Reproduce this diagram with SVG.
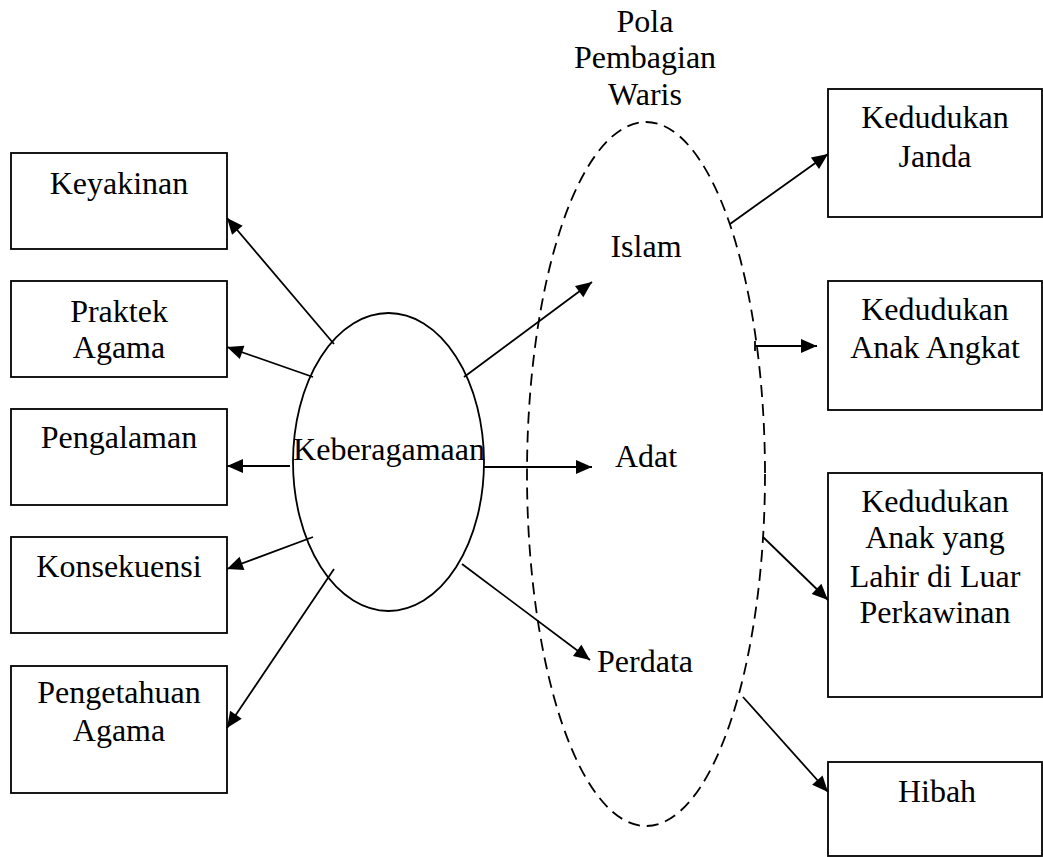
<svg xmlns="http://www.w3.org/2000/svg" width="1043" height="857" viewBox="0 0 1043 857">
<style>
text{font-family:"Liberation Serif","Times New Roman",serif;font-size:32px;fill:#000;text-anchor:middle}
.box{fill:#fff;stroke:#000;stroke-width:1.8}
.conn line{stroke:#000;stroke-width:1.8}
.arr{marker-end:url(#ah)}
</style>
<defs>
<marker id="ah" markerUnits="userSpaceOnUse" markerWidth="18" markerHeight="16" refX="16" refY="7" orient="auto" overflow="visible">
<path d="M0,0 L16,7 L0,14 z" fill="#000"/>
</marker>
</defs>
<rect width="1043" height="857" fill="#fff"/>

<g id="pola">
<ellipse cx="646" cy="474" rx="119" ry="352" fill="none" stroke="#000" stroke-width="1.8" stroke-dasharray="12,7"/>
<text x="645" y="32">Pola</text>
<text x="645" y="68">Pembagian</text>
<text x="645" y="105">Waris</text>
</g>
<g id="islam"><text x="646" y="257">Islam</text></g>
<g id="adat"><text x="646" y="467">Adat</text></g>
<g id="perdata"><text x="645" y="672">Perdata</text></g>

<g id="keberagamaan">
<ellipse cx="388.5" cy="462" rx="95.5" ry="149" fill="#fff" stroke="#000" stroke-width="1.8"/>
<text x="389" y="460">Keberagamaan</text>
</g>

<g id="keyakinan"><rect class="box" x="11" y="153" width="216" height="96"/><text x="119" y="194">Keyakinan</text></g>
<g id="praktek"><rect class="box" x="11" y="281" width="216" height="96"/><text x="119" y="322">Praktek</text><text x="119" y="358">Agama</text></g>
<g id="pengalaman"><rect class="box" x="11" y="409" width="216" height="96"/><text x="119" y="448">Pengalaman</text></g>
<g id="konsekuensi"><rect class="box" x="11" y="537" width="216" height="96"/><text x="119" y="577">Konsekuensi</text></g>
<g id="pengetahuan"><rect class="box" x="11" y="666" width="216" height="127"/><text x="119" y="703">Pengetahuan</text><text x="119" y="741">Agama</text></g>

<g id="janda"><rect class="box" x="828" y="89" width="214" height="128"/><text x="935" y="128">Kedudukan</text><text x="935" y="167">Janda</text></g>
<g id="angkat"><rect class="box" x="828" y="281" width="214" height="129"/><text x="935" y="320">Kedudukan</text><text x="935" y="358">Anak Angkat</text></g>
<g id="luar"><rect class="box" x="828" y="473" width="214" height="224"/><text x="935" y="512">Kedudukan</text><text x="935" y="548">Anak yang</text><text x="935" y="587">Lahir di Luar</text><text x="935" y="623">Perkawinan</text></g>
<g id="hibah"><rect class="box" x="828" y="762" width="214" height="94"/><text x="937" y="802">Hibah</text></g>

<g class="conn" id="connectors">
<line class="arr" x1="334" y1="344" x2="227" y2="218"/>
<line class="arr" x1="313" y1="377" x2="227" y2="347"/>
<line class="arr" x1="290" y1="466" x2="227" y2="466"/>
<line class="arr" x1="313" y1="537" x2="227" y2="569"/>
<line class="arr" x1="334" y1="569" x2="227" y2="728"/>
<line class="arr" x1="464" y1="377" x2="592" y2="282"/>
<line class="arr" x1="484" y1="467" x2="592" y2="467"/>
<line class="arr" x1="462" y1="564" x2="590" y2="660"/>
<line class="arr" x1="730" y1="224" x2="828" y2="154"/>
<line class="arr" x1="755" y1="346" x2="817" y2="346"/>
<line x1="755" y1="341" x2="755" y2="351"/>
<line class="arr" x1="763" y1="537" x2="828" y2="600"/>
<line class="arr" x1="743" y1="697" x2="828" y2="792"/>
</g>
</svg>
